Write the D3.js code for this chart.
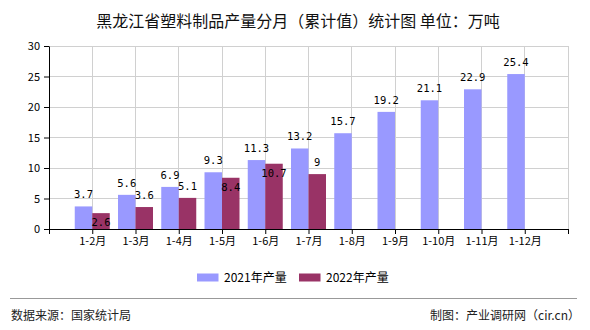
<!DOCTYPE html>
<html><head><meta charset="utf-8">
<script src="https://cdn.jsdelivr.net/npm/d3@7"></script>
<style>body{margin:0;background:#fff}svg{display:block}</style>
</head><body><svg id="c" width="590" height="330"></svg>
<script>
const categories = ["1-2月","1-3月","1-4月","1-5月","1-6月","1-7月","1-8月","1-9月","1-10月","1-11月","1-12月"];
const values2021 = [3.7,5.6,6.9,9.3,11.3,13.2,15.7,19.2,21.1,22.9,25.4];
const values2022 = [2.6,3.6,5.1,8.4,10.7,9];
const seriesNames = ["2021年产量","2022年产量"];
const colors = ["#9999FF","#993366"];
const yTicks = [0,5,10,15,20,25,30];

const svg = d3.select("#c");
const L=49,R=568,T=46,B=229;
const cjk = "'Noto Sans CJK SC', sans-serif";
const mono = "'DejaVu Sans Mono', monospace";

svg.append("text").attr("x",298).attr("y",27).attr("text-anchor","middle")
  .attr("font-family",cjk).attr("font-size",16).attr("fill","#111")
  .text("黑龙江省塑料制品产量分月（累计值）统计图 单位：万吨");

const y = d3.scaleLinear().domain([0,30]).range([B,T]);
const slots = ["_s",...categories,"_e"];
const x = d3.scalePoint().domain(slots).range([L,R]);

const g = svg.append("g");
g.selectAll("line.h").data(yTicks.slice(1)).join("line")
  .attr("x1",L).attr("x2",R).attr("y1",d=>y(d)).attr("y2",d=>y(d))
  .attr("stroke","#d0d0d0").attr("stroke-width",1).attr("shape-rendering","crispEdges");
g.selectAll("line.v").data(slots.slice(1)).join("line")
  .attr("x1",d=>x(d)).attr("x2",d=>x(d)).attr("y1",T).attr("y2",B)
  .attr("stroke","#d0d0d0").attr("stroke-width",1).attr("shape-rendering","crispEdges");

const bw = 17.5;
svg.append("g").selectAll("rect").data(values2021).join("rect")
  .attr("x",(d,i)=>x(categories[i])-bw).attr("width",bw)
  .attr("y",d=>y(d)).attr("height",d=>B-y(d)).attr("fill",colors[0]);
svg.append("g").selectAll("rect").data(values2022).join("rect")
  .attr("x",(d,i)=>x(categories[i])).attr("width",bw)
  .attr("y",d=>y(d)).attr("height",d=>B-y(d)).attr("fill",colors[1]);

const yAxis = d3.axisLeft(y).tickValues(yTicks).tickSize(5).tickSizeOuter(0).tickPadding(4);
const ya = svg.append("g").attr("transform",`translate(${L},0)`).call(yAxis);
ya.select(".domain").attr("stroke","#000");
ya.selectAll("text").attr("font-family",cjk).attr("font-size",11).attr("fill","#000");

const xAxis = d3.axisBottom(x).tickSize(5).tickSizeOuter(0).tickPadding(3)
  .tickFormat(d=>d.startsWith("_")?"":d);
const xa = svg.append("g").attr("transform",`translate(0,${B})`).call(xAxis);
xa.select(".domain").attr("stroke","#000");
xa.selectAll("text").attr("font-family",cjk).attr("font-size",11).attr("fill","#000");

const lab = svg.append("g").attr("font-family",mono).attr("font-size",10.5).attr("fill","#000").attr("text-anchor","middle");
lab.selectAll("text.a").data(values2021).join("text")
  .attr("x",(d,i)=>x(categories[i])-bw/2).attr("y",d=>y(d)-8).text(d=>d);
lab.selectAll("text.b").data(values2022).join("text")
  .attr("x",(d,i)=>x(categories[i])+bw/2)
  .attr("y",(d,i)=> (values2021[i]-d<1.5) ? y(d)+13 : y(d)-8).text(d=>d);

const leg = svg.append("g");
[[197,224],[299,326]].forEach((p,i)=>{
  leg.append("rect").attr("x",p[0]).attr("y",273.5).attr("width",21.5).attr("height",8).attr("fill",colors[i]);
  leg.append("text").attr("x",p[1]).attr("y",282).attr("font-family",cjk).attr("font-size",12).attr("fill","#000").text(seriesNames[i]);
});

svg.append("line").attr("x1",10).attr("x2",577).attr("y1",298.5).attr("y2",298.5).attr("stroke","#999").attr("stroke-width",1);
svg.append("text").attr("x",11).attr("y",320).attr("font-family",cjk).attr("font-size",12).attr("fill","#222").text("数据来源：国家统计局");
svg.append("text").attr("x",580).attr("y",320).attr("text-anchor","end").attr("font-family",cjk).attr("font-size",12).attr("fill","#222").text("制图：产业调研网（cir.cn）");
</script></body></html>
